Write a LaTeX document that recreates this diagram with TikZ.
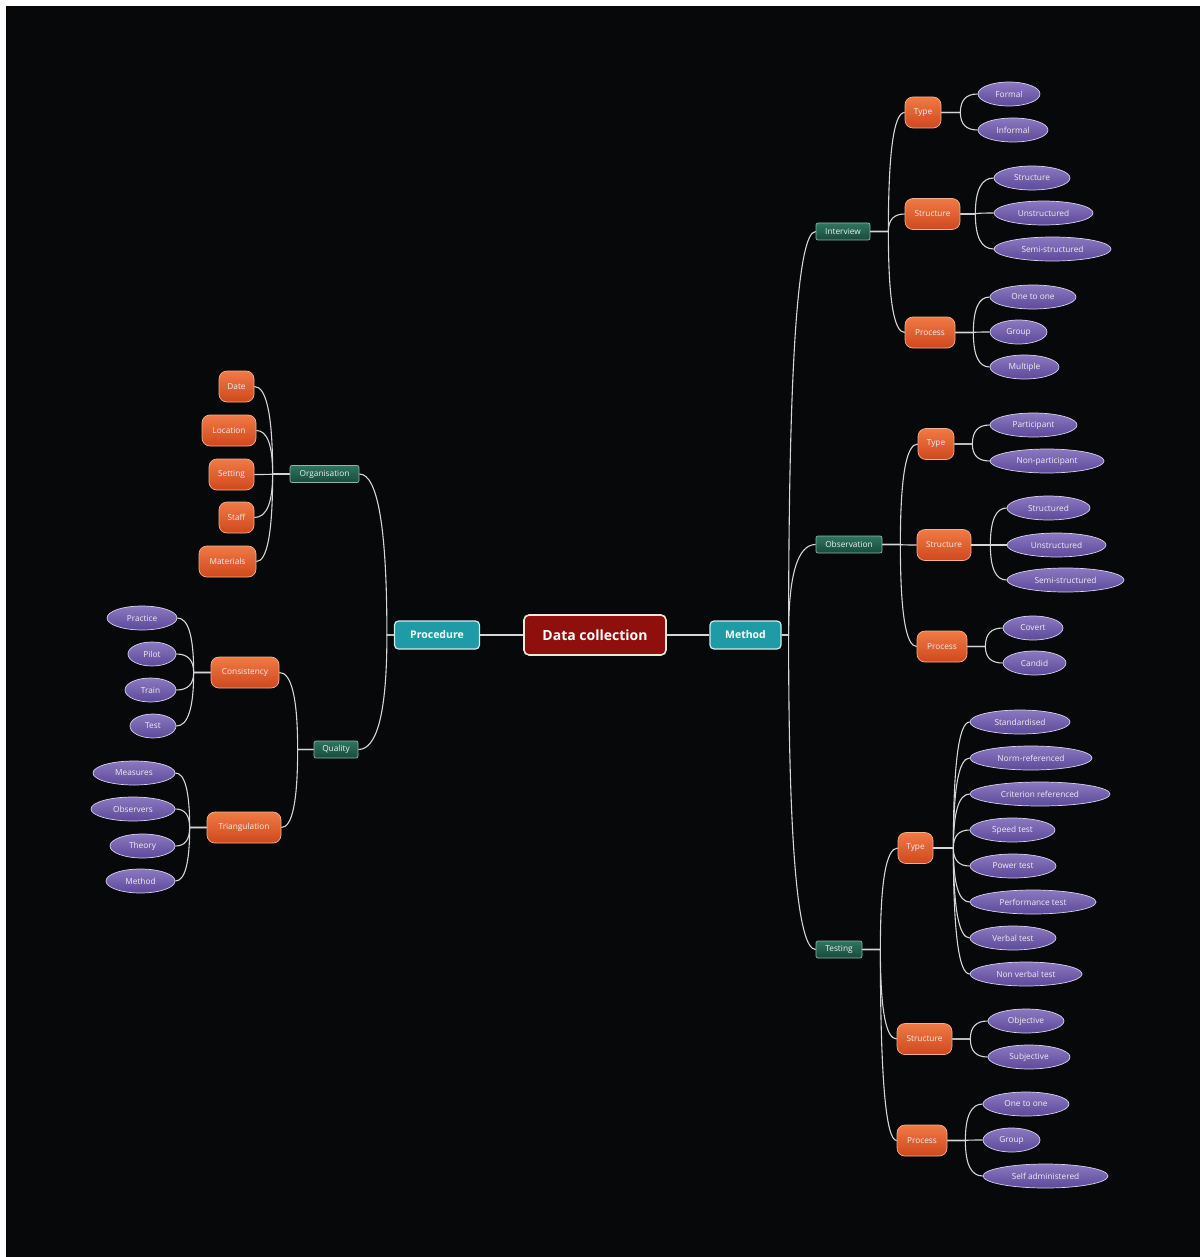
\documentclass[tikz,border=0pt]{standalone}
\usepackage{fontspec}
\setmainfont{Open Sans}
\usetikzlibrary{shapes.geometric,calc}

\definecolor{bgdark}{HTML}{070809}
\definecolor{rootred}{HTML}{8E0F0B}
\definecolor{rootedge}{HTML}{F3E6DC}
\definecolor{mteal}{HTML}{1F9BA8}
\definecolor{mtealedge}{HTML}{CDEDEE}
\definecolor{grnA}{HTML}{2F7560}
\definecolor{grnB}{HTML}{174B3C}
\definecolor{grnedge}{HTML}{8FB5A8}
\definecolor{orA}{HTML}{F07A45}
\definecolor{orB}{HTML}{CF481D}
\definecolor{oredge}{HTML}{F5B090}
\definecolor{puA}{HTML}{8A78C0}
\definecolor{puB}{HTML}{5C4A9A}
\definecolor{puedge}{HTML}{D8D0F0}
\definecolor{linkgray}{HTML}{D6D6D6}
\definecolor{labelgray}{HTML}{EEEEEE}

% branch to the right: short stem, then a parabolic bend into the child
\newcommand\linkR[3]{%
  \path (#1.east) ++(#3,0) coordinate (tk);
  \path (tk |- #2.west) coordinate (cn);
  \draw[link] (#1.east) -- (tk)
    .. controls ($(tk)!0.667!(cn)$) and ($(#2.west)!0.667!(cn)$) .. (#2.west);}
% branch to the left
\newcommand\linkL[3]{%
  \path (#1.west) ++(-#3,0) coordinate (tk);
  \path (tk |- #2.east) coordinate (cn);
  \draw[link] (#1.west) -- (tk)
    .. controls ($(tk)!0.667!(cn)$) and ($(#2.east)!0.667!(cn)$) .. (#2.east);}

\begin{document}
\begin{tikzpicture}[x=1pt,y=-1pt,
  rootbox/.style={draw=rootedge, line width=1.6pt, fill=rootred, rounded corners=5pt,
    minimum width=142, minimum height=40, inner sep=0, text=white,
    font=\fontsize{14}{16}\selectfont\bfseries},
  mainbox/.style={draw=mtealedge, line width=1.2pt, fill=mteal, rounded corners=4pt,
    minimum height=28, inner sep=0, text=white,
    font=\fontsize{10.5}{12}\selectfont\bfseries},
  subbox/.style={draw=grnedge, line width=0.7pt, top color=grnA, bottom color=grnB,
    rounded corners=2pt, minimum height=17, inner sep=0, text=labelgray,
    font=\fontsize{8.3}{9}\selectfont},
  catbox/.style={draw=oredge, line width=0.7pt, top color=orA, bottom color=orB,
    rounded corners=8pt, minimum height=31, inner sep=0, text=labelgray,
    font=\fontsize{8.3}{9}\selectfont},
  leaf/.style={ellipse, draw=puedge, line width=0.7pt, top color=puA, bottom color=puB,
    minimum height=24, inner sep=0, text=labelgray,
    font=\fontsize{8.3}{9}\selectfont},
  link/.style={draw=linkgray, line width=1.1pt}
]
\useasboundingbox (0,0) rectangle (1200,1257);
\fill[white] (0,0) rectangle (1200,1257);
\fill[bgdark] (6,6) rectangle (1200,1257);

% centre and first level
\node[rootbox] (root) at (595,635) {Data collection};
\node[mainbox, minimum width=85] (procedure) at (437,635) {Procedure};
\node[mainbox, minimum width=71] (method) at (745.5,635) {Method};

% second level
\node[subbox, minimum width=54] (interview) at (843,231.5) {Interview};
\node[subbox, minimum width=66] (observation) at (849,544.5) {Observation};
\node[subbox, minimum width=46] (testing) at (839,949.5) {Testing};
\node[subbox, minimum width=69] (organisation) at (324.5,474) {Organisation};
\node[subbox, minimum width=44] (quality) at (336,749.5) {Quality};

% third level
\node[catbox, minimum width=36] (iType) at (923,112.5) {Type};
\node[catbox, minimum width=55] (iStruct) at (932.5,214) {Structure};
\node[catbox, minimum width=50] (iProc) at (930,332.5) {Process};
\node[catbox, minimum width=36] (oType) at (936,444) {Type};
\node[catbox, minimum width=54] (oStruct) at (944,545) {Structure};
\node[catbox, minimum width=50] (oProc) at (942,646.5) {Process};
\node[catbox, minimum width=35] (tType) at (915.5,848) {Type};
\node[catbox, minimum width=55] (tStruct) at (924.5,1039) {Structure};
\node[catbox, minimum width=50] (tProc) at (922,1140.5) {Process};
\node[catbox, minimum width=35] (date) at (236.5,386.5) {Date};
\node[catbox, minimum width=54] (location) at (229,430.5) {Location};
\node[catbox, minimum width=45] (setting) at (231.5,474.5) {Setting};
\node[catbox, minimum width=35] (staff) at (236.5,517.5) {Staff};
\node[catbox, minimum width=57] (materials) at (227.5,561.5) {Materials};
\node[catbox, minimum width=68] (consistency) at (245,672.5) {Consistency};
\node[catbox, minimum width=74] (triangulation) at (244,827.5) {Triangulation};

% leaves: interview
\node[leaf, minimum width=62] (l1) at (1009,94) {Formal};
\node[leaf, minimum width=70] (l2) at (1013,130) {Informal};
\node[leaf, minimum width=76] (l3) at (1032,178) {Structure};
\node[leaf, minimum width=99] (l4) at (1043.5,213) {Unstructured};
\node[leaf, minimum width=117] (l5) at (1052.5,249) {Semi-structured};
\node[leaf, minimum width=86] (l6) at (1033,297) {One to one};
\node[leaf, minimum width=57] (l7) at (1018.5,332) {Group};
\node[leaf, minimum width=69] (l8) at (1024.5,367) {Multiple};
% leaves: observation
\node[leaf, minimum width=87] (m1) at (1033.5,425) {Participant};
\node[leaf, minimum width=114] (m2) at (1047,461) {Non-participant};
\node[leaf, minimum width=83] (m3) at (1048.5,508) {Structured};
\node[leaf, minimum width=99] (m4) at (1056.5,545) {Unstructured};
\node[leaf, minimum width=117] (m5) at (1065.5,580) {Semi-structured};
\node[leaf, minimum width=60] (m6) at (1033,628) {Covert};
\node[leaf, minimum width=63] (m7) at (1034.5,663) {Candid};
% leaves: testing
\node[leaf, minimum width=100] (n1) at (1020,722) {Standardised};
\node[leaf, minimum width=122] (n2) at (1031,758) {Norm-referenced};
\node[leaf, minimum width=140] (n3) at (1040,794) {Criterion referenced};
\node[leaf, minimum width=85] (n4) at (1012.5,830) {Speed test};
\node[leaf, minimum width=86] (n5) at (1013,866) {Power test};
\node[leaf, minimum width=126] (n6) at (1033,902) {Performance test};
\node[leaf, minimum width=86] (n7) at (1013,938) {Verbal test};
\node[leaf, minimum width=112] (n8) at (1026,974) {Non verbal test};
\node[leaf, minimum width=76] (n9) at (1026,1021) {Objective};
\node[leaf, minimum width=82] (n10) at (1029,1057) {Subjective};
\node[leaf, minimum width=86] (n11) at (1026,1104) {One to one};
\node[leaf, minimum width=57] (n12) at (1011.5,1140) {Group};
\node[leaf, minimum width=125] (n13) at (1045.5,1176) {Self administered};
% leaves: quality
\node[leaf, minimum width=70] (q1) at (142,618) {Practice};
\node[leaf, minimum width=48] (q2) at (152,654) {Pilot};
\node[leaf, minimum width=51] (q3) at (150.5,690) {Train};
\node[leaf, minimum width=46] (q4) at (153,726) {Test};
\node[leaf, minimum width=82] (q5) at (134,773) {Measures};
\node[leaf, minimum width=84] (q6) at (133,809) {Observers};
\node[leaf, minimum width=65] (q7) at (142.5,846) {Theory};
\node[leaf, minimum width=69] (q8) at (140.5,881) {Method};

% connectors
\draw[link] (root.east) -- (method.west);
\draw[link] (root.west) -- (procedure.east);
\foreach \c in {interview,observation,testing} {\linkR{method}{\c}{7}}
\foreach \c in {iType,iStruct,iProc} {\linkR{interview}{\c}{18}}
\foreach \c in {oType,oStruct,oProc} {\linkR{observation}{\c}{18}}
\foreach \c in {tType,tStruct,tProc} {\linkR{testing}{\c}{18}}
\foreach \c in {l1,l2} {\linkR{iType}{\c}{19}}
\foreach \c in {l3,l4,l5} {\linkR{iStruct}{\c}{15}}
\foreach \c in {l6,l7,l8} {\linkR{iProc}{\c}{18}}
\foreach \c in {m1,m2} {\linkR{oType}{\c}{18}}
\foreach \c in {m3,m4,m5} {\linkR{oStruct}{\c}{19}}
\foreach \c in {m6,m7} {\linkR{oProc}{\c}{18}}
\foreach \c in {n1,n2,n3,n4,n5,n6,n7,n8} {\linkR{tType}{\c}{20}}
\foreach \c in {n9,n10} {\linkR{tStruct}{\c}{18}}
\foreach \c in {n11,n12,n13} {\linkR{tProc}{\c}{18}}
\foreach \c in {organisation,quality} {\linkL{procedure}{\c}{7}}
\foreach \c in {date,location,setting,staff,materials} {\linkL{organisation}{\c}{17}}
\foreach \c in {consistency,triangulation} {\linkL{quality}{\c}{16}}
\foreach \c in {q1,q2,q3,q4} {\linkL{consistency}{\c}{17}}
\foreach \c in {q5,q6,q7,q8} {\linkL{triangulation}{\c}{17}}
\end{tikzpicture}
\end{document}
